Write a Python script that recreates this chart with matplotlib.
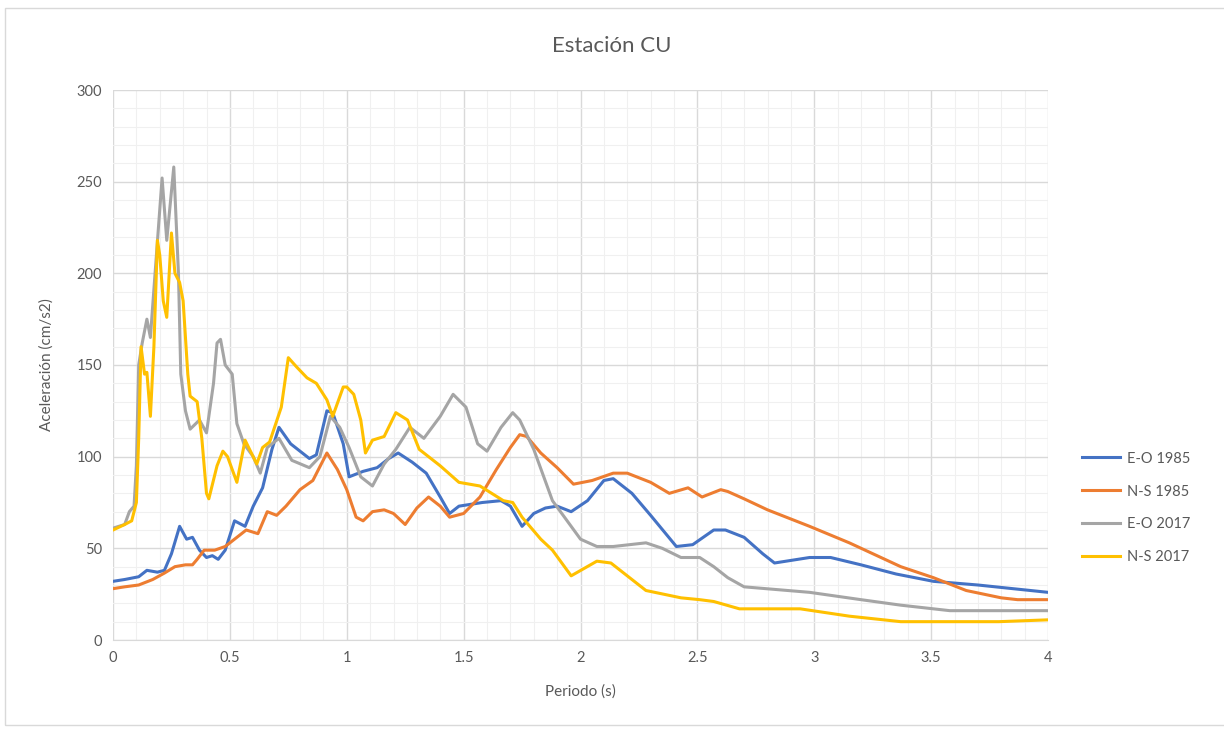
import matplotlib
matplotlib.use("Agg")
import matplotlib.pyplot as plt
from matplotlib.patches import Rectangle
from matplotlib.ticker import MultipleLocator, FuncFormatter

plt.rcParams['font.family'] = ['Lato', 'DejaVu Sans']

# ---- data ----
eo85_t = [0, 0.05, 0.11, 0.145, 0.19, 0.22, 0.25, 0.285, 0.315, 0.34, 0.37, 0.40, 0.425, 0.45, 0.48,
          0.52, 0.565, 0.60, 0.64, 0.68, 0.71, 0.76, 0.79, 0.81, 0.84, 0.87, 0.915, 0.94, 0.985, 1.01,
          1.07, 1.13, 1.18, 1.22, 1.28, 1.34, 1.40, 1.44, 1.48, 1.58, 1.66, 1.70, 1.75, 1.80, 1.85,
          1.90, 1.96, 2.03, 2.10, 2.14, 2.22, 2.30, 2.41, 2.48, 2.57, 2.62, 2.70, 2.78, 2.83, 2.98,
          3.07, 3.20, 3.35, 3.51, 3.70, 3.85, 4.0]
eo85_v = [32, 33, 34.5, 38, 37, 38, 47, 62, 55, 56, 49, 45, 46, 44, 49,
          65, 62, 73, 83, 104, 116, 107, 104, 102, 99, 101, 125, 124, 107, 89,
          92, 94, 99, 102, 97, 91, 78, 69, 73, 75, 76, 73, 62, 69, 72,
          73, 70, 76, 87, 88, 80, 68, 51, 52, 60, 60, 56, 47, 42, 45,
          45, 41, 36, 32, 30, 28, 26]

ns85_t = [0, 0.05, 0.11, 0.17, 0.22, 0.265, 0.31, 0.34, 0.36, 0.39, 0.435, 0.48, 0.52, 0.57, 0.62,
          0.66, 0.70, 0.74, 0.80, 0.855, 0.915, 0.96, 1.0, 1.04, 1.07, 1.11, 1.16, 1.20, 1.25, 1.30,
          1.35, 1.40, 1.44, 1.50, 1.57, 1.64, 1.70, 1.74, 1.77, 1.83, 1.90, 1.97, 2.05, 2.14, 2.20,
          2.30, 2.38, 2.46, 2.52, 2.60, 2.63, 2.70, 2.80, 2.98, 3.15, 3.37, 3.51, 3.65, 3.80, 3.87, 4.0]
ns85_v = [28, 29, 30, 33, 36.5, 40, 41, 41, 44, 49, 49, 51, 55, 60, 58,
          70, 68, 73, 82, 87, 102, 93, 82, 67, 65, 70, 71, 69, 63, 72,
          78, 73, 67, 69, 78, 93, 105, 112, 111, 102, 94, 85, 87, 91, 91,
          86, 80, 83, 78, 82, 81, 77, 71, 62, 53, 40, 34, 27, 23, 22, 22]

eo17_t = [0, 0.05, 0.07, 0.09, 0.10, 0.11, 0.125, 0.145, 0.16, 0.18, 0.21, 0.23, 0.26, 0.28, 0.29,
          0.31, 0.33, 0.37, 0.40, 0.43, 0.445, 0.46, 0.48, 0.51, 0.53, 0.56, 0.60, 0.63, 0.66, 0.71,
          0.765, 0.84, 0.885, 0.93, 0.97, 1.01, 1.06, 1.11, 1.16, 1.21, 1.27, 1.33, 1.40, 1.455, 1.51,
          1.56, 1.60, 1.66, 1.71, 1.74, 1.80, 1.88, 2.0, 2.07, 2.14, 2.28, 2.35, 2.43, 2.51, 2.57,
          2.63, 2.70, 2.98, 3.20, 3.37, 3.58, 3.80, 4.0]
eo17_v = [61, 63, 70, 73, 95, 150, 162, 175, 165, 200, 252, 218, 258, 200, 145,
          125, 115, 120, 113, 140, 162, 164, 150, 145, 118, 107, 100, 91, 105, 110,
          98, 94, 100, 122, 116, 105, 89, 84, 96, 104, 116, 110, 122, 134, 127,
          107, 103, 116, 124, 120, 104, 76, 55, 51, 51, 53, 50, 45, 45, 40,
          34, 29, 26, 22, 19, 16, 16, 16]

ns17_t = [0, 0.05, 0.08, 0.10, 0.11, 0.12, 0.135, 0.145, 0.16, 0.175, 0.19, 0.20, 0.215, 0.23, 0.25,
          0.265, 0.285, 0.30, 0.32, 0.33, 0.36, 0.38, 0.40, 0.41, 0.445, 0.47, 0.49, 0.53, 0.565, 0.615,
          0.64, 0.67, 0.72, 0.75, 0.785, 0.83, 0.87, 0.915, 0.94, 0.985, 1.0, 1.03, 1.06, 1.08, 1.11,
          1.16, 1.21, 1.26, 1.31, 1.40, 1.48, 1.57, 1.67, 1.71, 1.75, 1.83, 1.88, 1.96, 2.07, 2.13,
          2.20, 2.28, 2.43, 2.51, 2.57, 2.68, 2.94, 3.15, 3.37, 3.79, 4.0]
ns17_v = [60, 63, 65, 75, 110, 160, 145, 146, 122, 160, 218, 210, 185, 176, 222,
          200, 195, 185, 145, 133, 130, 110, 80, 77, 95, 103, 100, 86, 109, 96,
          105, 108, 127, 154, 149, 143, 140, 131, 122, 138, 138, 134, 120, 102, 109,
          111, 124, 120, 104, 95, 86, 84, 76, 75, 67, 55, 49, 35, 43, 42,
          35, 27, 23, 22, 21, 17, 17, 13, 10, 10, 11]

labels = ["E-O 1985", "N-S 1985", "E-O 2017", "N-S 2017"]
colors = ["#4472C4", "#ED7D31", "#A5A5A5", "#FFC000"]

# ---- figure ----
fig = plt.figure(figsize=(12.24, 7.30), dpi=100)
fig.patches.append(Rectangle((5 / 1224, 5 / 730), 1.1, 717 / 730, transform=fig.transFigure,
                             fill=False, edgecolor="#D9D9D9", linewidth=1.0))
ax = fig.add_axes([113 / 1224, 1 - 640 / 730, (1048 - 113) / 1224, (640 - 90) / 730])

series = [(eo85_t, eo85_v), (ns85_t, ns85_v), (eo17_t, eo17_v), (ns17_t, ns17_v)]
for (t, v), lab, c in zip(series, labels, colors):
    ax.plot(t, v, color=c, lw=2.2, label=lab, solid_joinstyle="round", zorder=3)

ax.set_xlim(0, 4)
ax.set_ylim(0, 300)
ax.xaxis.set_major_locator(MultipleLocator(0.5))
ax.xaxis.set_minor_locator(MultipleLocator(0.1))
ax.yaxis.set_major_locator(MultipleLocator(50))
ax.yaxis.set_minor_locator(MultipleLocator(10))
ax.xaxis.set_major_formatter(FuncFormatter(lambda x, p: f"{x:g}"))
ax.grid(which="major", color="#D9D9D9", lw=1.0, zorder=1)
ax.grid(which="minor", color="#F0F0F0", lw=0.8, zorder=0)
ax.set_axisbelow(True)
for s in ax.spines.values():
    s.set_visible(False)
ax.spines["bottom"].set_visible(True)
ax.spines["bottom"].set_color("#D9D9D9")
ax.tick_params(which="both", length=0, colors="#595959", labelsize=10.5)
ax.tick_params(axis="x", pad=8)
ax.tick_params(axis="y", pad=8)

ax.set_xlabel("Periodo (s)", fontsize=11, color="#595959", labelpad=14)
ax.set_ylabel("Aceleración (cm/s2)", fontsize=11, color="#595959", labelpad=16)
fig.text(0.5 + 0.0 * 1, 1 - 46 / 730, "Estación CU", ha="center", va="center",
         fontsize=16, color="#595959")

leg = ax.legend(loc="center left", bbox_to_anchor=(1069 / 1224, 1 - 508 / 730),
                bbox_transform=fig.transFigure, frameon=False, fontsize=10.5,
                handlelength=2.6, labelspacing=1.3, handletextpad=0.5)
for txt in leg.get_texts():
    txt.set_color("#595959")

fig.savefig("out.png", dpi=100)
